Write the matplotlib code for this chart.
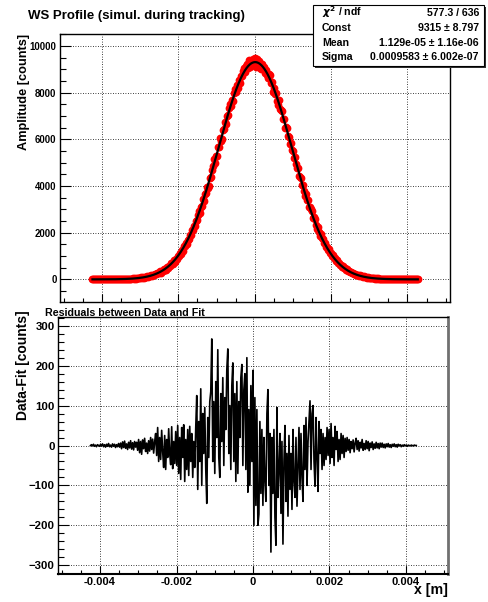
import numpy as np
import matplotlib
matplotlib.use("Agg")
import matplotlib.pyplot as plt
from matplotlib.patches import Rectangle
from matplotlib.ticker import MultipleLocator

plt.rcParams['font.family'] = ['Liberation Sans', 'DejaVu Sans']
plt.rcParams['font.weight'] = 'bold'

# fit result (from the stats box)
const = 9315
mean = 1.129e-05
sigma = 0.0009583

stat_labels = [r"$\chi^{2}$ / ndf", "Const", "Mean", "Sigma"]
stat_values = ["577.3 / 636", "9315 \u00b1 8.797",
               "1.129e-05 \u00b1 1.16e-06", "0.0009583 \u00b1 6.002e-07"]

# scan range of the wire positions [m]
x_first = -0.00425
x_last = 0.00427

# residuals Data-Fit [counts] from left to right
residuals = [
    0, 2, -1, 3, -2, 1, -3, 2, 0, -2, 3, -1, 4, -3, 2, -4, 3, -2, 5, -3,
    1, -4, 4, -2, 3, -5, 2, -3, 5, -4,
    6, -8, 9, -5, 11, -7, 4, -10, 8, -6, 12, -9, 7, -11, 10, -4, 8,
    -12, 15, -18, 10, -22, 14, -8, 18, -15, 6, -20, 12, -14, 20, -10, 16, -19, 9,
    30, -25, 45, -40, 20, -35, 38, -15, -55, 25, -60, 15, -30, 42, -20, -48, 47, -58, 10, -45,
    35, -50, 50, -70, 20, -85, 45, -30, 52, -90, 15, -60, 40, -75, 48, -40, 30, -80, 10, -55, 45,
    125, -110, 60, -40, 142, -100, 80, -20, 95, -60, -145, 70, -30, 110, 135,
    267, -40, 110, -70, 160, 20, 240, -30, -80, 130, 10, 170, -50, 120, 40, 190, 242, -20, 100,
    -60, 150, 207, -40, 130, -90, 160, -70, 110, 20, 170, 203, -50, 140, 180, -60, 220, -117,
    90, -100, 150, -40,
    188, -200,
    120, -150, 90, -200, -172, 60, -120, 40, -150, 20, -90, -140, 80, 140, -100, 30,
    -267, 20, -120, 40, -180, -250, 95, -130, -60, 30, -170, 10, -247, -40, 50, -140, -20, -177, 25, -110,
    -20, -160, 40, -90, -130, 20, -152, -50, 45, -110, 30, -80, -140, 50, -60, 70, -100, 10, 60, 112,
    -60, 80, 100, -40, -102, 70, -30, -115, 60, -20, 40, -60, 30, -50, 20, -35, 45,
    -25, 40, -45, 55, -30, 20, -50, 48, -10, 35, -40, 15, -35, 30, -20, 25, -30, 18, -15,
    20, -12, 15, -18, 10, -8, 14, -16, 6, 18, -10, 12, -14, 8, -6, 15, -12, 5, -10, 12,
    -8, 10, -13, 6, -5, 9, -10, 4, -7, 8, -6, 5, -8, 6,
    -4, 6, -5, 3, -6, 4, -3, 5, -4, 2, -5, 3, -2, 4, -3, 2, -4, 3, -1, 2,
    -3, 1, -2, 2, -1, 1, -2, 1, 0, -1, 1, 0, -1, 1, 0, 0,
]


def gaus(x):
    return const * np.exp(-0.5 * ((x - mean) / sigma) ** 2)


res = np.array(residuals, dtype=float)
x = np.linspace(x_first, x_last, len(res))
data = gaus(x) + res
xf = np.linspace(x_first, x_last, 1000)

W, H = 488, 602
fig = plt.figure(figsize=(W / 100, H / 100), dpi=100)


def fx(px):
    return px / W


def fy(py):
    return 1 - py / H


ax1 = fig.add_axes([fx(60), fy(302), (449.5 - 60) / W, (302 - 34) / H])
ax2 = fig.add_axes([fx(58), fy(574), (448 - 58) / W, (574 - 317) / H])

grid_kw = dict(color='black', linestyle=(0, (1, 2)), linewidth=0.6)

# upper panel: profile + gauss fit
ax1.plot(x, data, 'o', color='red', markersize=5.6, markeredgewidth=0, zorder=3)
ax1.plot(xf, gaus(xf), color='black', linewidth=1.6, zorder=4)
ax1.set_xlim(-0.0051, 0.0051)
ax1.set_ylim(-970, 10520)
ax1.xaxis.set_major_locator(MultipleLocator(0.002))
ax1.xaxis.set_minor_locator(MultipleLocator(0.0005))
ax1.yaxis.set_major_locator(MultipleLocator(2000))
ax1.yaxis.set_minor_locator(MultipleLocator(500))
ax1.tick_params(labelbottom=False)
ax1.set_ylabel("Amplitude [counts]", fontsize=9.2, fontweight='bold', loc='top')
ax1.yaxis.set_label_coords(-0.076, 1.0)
ax1.tick_params(axis='y', labelsize=6.9)

# lower panel: residuals
ax2.plot(x, res, color='black', linewidth=1.2)
ax2.set_xlim(-0.0051, 0.0051)
ax2.set_ylim(-322, 322)
ax2.xaxis.set_major_locator(MultipleLocator(0.002))
ax2.xaxis.set_minor_locator(MultipleLocator(0.0005))
ax2.yaxis.set_major_locator(MultipleLocator(100))
ax2.yaxis.set_minor_locator(MultipleLocator(20))
ax2.set_ylabel("Data-Fit [counts]", fontsize=10, fontweight='bold', loc='top')
ax2.yaxis.set_label_coords(-0.072, 1.027)
ax2.set_xlabel("x [m]", fontsize=10.2, fontweight='bold', loc='right')
ax2.xaxis.set_label_coords(1.0, -0.035)
ax2.tick_params(axis='y', labelsize=8.2)
ax2.tick_params(axis='x', labelsize=8)
ax2.set_xticks([-0.004, -0.002, 0, 0.002, 0.004])
ax2.set_xticklabels(["-0.004", "-0.002", "0", "0.002", "0.004"])

for ax in (ax1, ax2):
    ax.grid(True, which='major', **grid_kw)
    ax.set_axisbelow(True)
    ax.tick_params(which='both', direction='in', top=False, right=False, width=0.8, pad=2.5)
    ax.tick_params(axis='y', which='major', length=8)
    ax.tick_params(axis='y', which='minor', length=4)
    ax.tick_params(axis='x', which='major', length=6)
    ax.tick_params(axis='x', which='minor', length=3)
    for s in ax.spines.values():
        s.set_linewidth(1.0)
ax2.spines['right'].set_color('#707070')
ax2.spines['right'].set_linewidth(2.0)
ax2.spines['bottom'].set_linewidth(1.5)

fig.text(fx(27.7), fy(19.5), "WS Profile (simul. during tracking)", fontsize=9.5,
         fontweight='bold', va='baseline', ha='left')
fig.text(fx(45), fy(316.5), "Residuals between Data and Fit", fontsize=7.7,
         fontweight='bold', va='baseline', ha='left')

# stats box
fig.add_artist(Rectangle((fx(315), fy(68)), (484 - 313) / W, (66 - 5) / H,
                         transform=fig.transFigure, facecolor='#303030',
                         edgecolor='none', zorder=5))
fig.add_artist(Rectangle((fx(313), fy(66)), (484 - 313) / W, (66 - 5) / H,
                         transform=fig.transFigure, facecolor='white',
                         edgecolor='black', linewidth=0.8, zorder=6))
for lab, val, yb in zip(stat_labels, stat_values, [16.5, 31, 45.7, 60.5]):
    fig.text(fx(322), fy(yb), lab, fontsize=7.6, fontweight='bold',
             va='baseline', ha='left', zorder=7)
    fig.text(fx(479), fy(yb), val, fontsize=7.6, fontweight='bold',
             va='baseline', ha='right', zorder=7)

fig.savefig("out.png", dpi=100)
